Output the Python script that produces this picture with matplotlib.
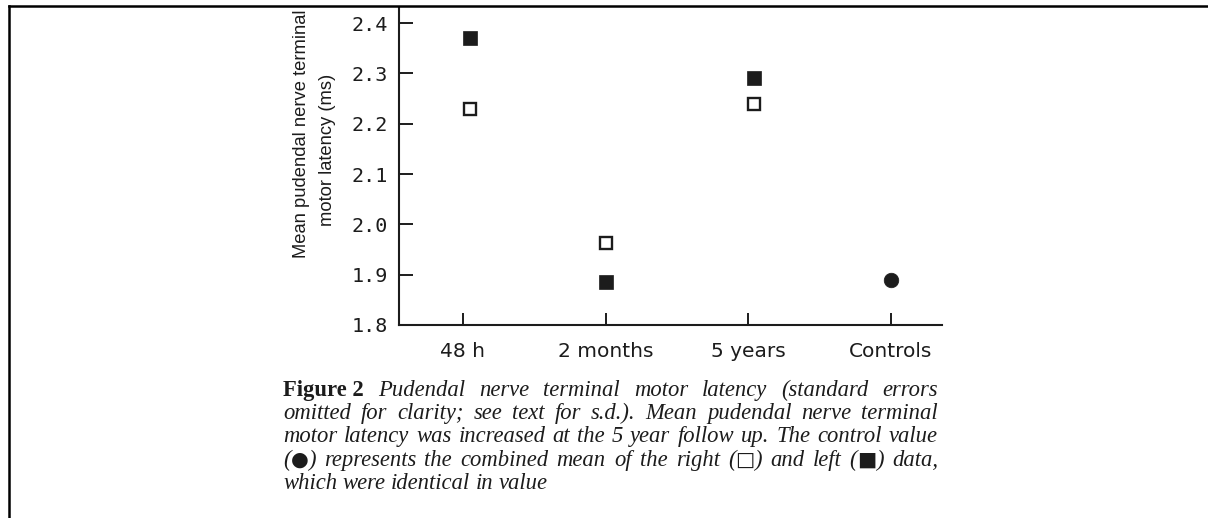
import numpy as np
import matplotlib.pyplot as plt
from matplotlib.lines import Line2D

# values
groups = ['48 h', '2 months', '5 years', 'Controls']
right_ms = [2.23, 1.963, 2.24, np.nan]      # open squares (right)
left_ms = [2.37, 1.885, 2.29, np.nan]       # filled squares (left)
control_ms = [np.nan, np.nan, np.nan, 1.89]  # filled circle (combined)
y_ticks = [1.8, 1.9, 2.0, 2.1, 2.2, 2.3, 2.4]
x_nudge = [0.05, 0.0, 0.04, 0.0]  # the scan is slightly rotated

ylabel_1 = 'Mean pudendal nerve terminal'
ylabel_2 = 'motor latency (ms)'
caption = [
    'Pudendal nerve terminal motor latency (standard errors',
    'omitted for clarity; see text for s.d.). Mean pudendal nerve terminal',
    'motor latency was increased at the 5 year follow up. The control value',
    '(\u25CF) represents the combined mean of the right (\u25A1) and left (\u25A0) data,',
    'which were identical in value',
]
symbols = '\u25CF\u25A1\u25A0'

ink = '#1c1c1c'
W, H = 1208, 518
fig = plt.figure(figsize=(W / 100, H / 100), dpi=100)
fig.patch.set_facecolor('white')

ax = fig.add_axes([399 / W, 1 - 325 / H, (942 - 399) / W, (325 - 8) / H])
x = np.arange(len(groups)) + np.array(x_nudge)
ax.plot(x, right_ms, 's', ms=9, mfc='white', mec=ink, mew=1.7, ls='none')
ax.plot(x, left_ms, 's', ms=10, mfc=ink, mec=ink, mew=0.5, ls='none')
ax.plot(x, control_ms, 'o', ms=10.5, mfc=ink, mec=ink, mew=0.5, ls='none')

ax.set_xlim(-0.4485, 3.357)
ax.set_ylim(1.8, 2.43)
ax.set_xticks(np.arange(len(groups)))
ax.set_xticklabels(groups, family='DejaVu Sans', fontsize=14.5, color=ink)
ax.set_yticks(y_ticks)
ax.set_yticklabels(['%.1f' % v for v in y_ticks], family='DejaVu Sans Mono',
                   fontsize=14.5, color=ink)
ax.tick_params(axis='y', direction='in', length=10, width=1.4, color=ink, pad=8)
ax.tick_params(axis='x', direction='in', length=9, width=1.4, color=ink, pad=12)
for side in ['top', 'right']:
    ax.spines[side].set_visible(False)
for side in ['left', 'bottom']:
    ax.spines[side].set_linewidth(1.5)
    ax.spines[side].set_color(ink)

# two-line y label, placed as in the scan
fig.text(302 / W, 1 - 134 / H, ylabel_1, rotation=90, ha='center', va='center',
         family='Liberation Sans', fontsize=13.2, color=ink)
fig.text(328 / W, 1 - 150 / H, ylabel_2, rotation=90, ha='center', va='center',
         family='Liberation Sans', fontsize=13.2, color=ink)

# justified caption block
cap_left, cap_right = 283, 938
cap_size = 16.3
renderer = fig.canvas.get_renderer()


def make_piece(s, y, bold=False):
    if s in symbols:
        return fig.text(0, y, s, fontsize=cap_size * 0.9, family='DejaVu Sans',
                        ha='left', va='baseline', color=ink)
    return fig.text(0, y, s, fontsize=cap_size, family='Liberation Serif',
                    style='normal' if bold else 'italic',
                    weight='bold' if bold else 'normal',
                    ha='left', va='baseline', color=ink)


def caption_line(words, base_y, justify=True):
    y = 1 - base_y / H
    groups_ = []
    for word, bold in words:
        parts, buf = [], ''
        for ch in word:
            if ch in symbols:
                if buf:
                    parts.append(buf)
                parts.append(ch)
                buf = ''
            else:
                buf += ch
        if buf:
            parts.append(buf)
        pieces = [make_piece(p, y, bold) for p in parts]
        widths = [p.get_window_extent(renderer).width for p in pieces]
        groups_.append((pieces, widths))
    total = sum(sum(w) for _, w in groups_)
    if justify and len(groups_) > 1:
        gap = (cap_right - cap_left - total) / (len(groups_) - 1)
    else:
        gap = 5.5
    xpos = cap_left
    for pieces, widths in groups_:
        for p, w in zip(pieces, widths):
            p.set_x(xpos / W)
            xpos += w
        xpos += gap


base = 396
step = 23.2
for i, line in enumerate(caption):
    words = [(w, False) for w in line.split(' ')]
    if i == 0:
        words = [('Figure 2', True)] + words
    caption_line(words, base + i * step, justify=i < len(caption) - 1)

# page frame from the scan
fig.add_artist(Line2D([8.5 / W, 1], [1 - 6 / H, 1 - 6 / H], lw=1.8, color='black'))
fig.add_artist(Line2D([8.5 / W, 8.5 / W], [0, 1 - 6 / H], lw=1.8, color='black'))

fig.savefig('out.png', dpi=100)
